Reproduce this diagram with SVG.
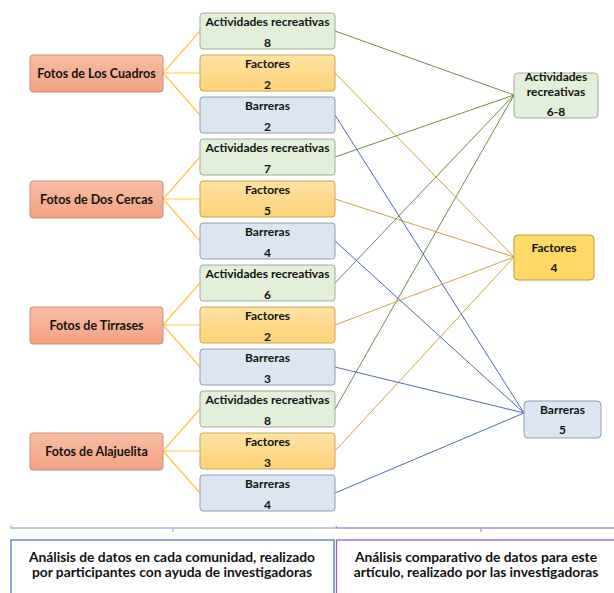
<svg xmlns="http://www.w3.org/2000/svg" width="614" height="593" viewBox="0 0 614 593">
<defs>
<linearGradient id="gSal" x1="0" y1="0" x2="0" y2="1"><stop offset="0" stop-color="#F7BDA5"/><stop offset="1" stop-color="#F4A283"/></linearGradient>
<linearGradient id="gFac" x1="0" y1="0" x2="0" y2="1"><stop offset="0" stop-color="#FFE2A4"/><stop offset="1" stop-color="#FFD275"/></linearGradient>
</defs>
<style>
text{font-family:Lato,"Liberation Sans",sans-serif;font-weight:bold;fill:#111;text-anchor:middle}
.sal{fill:url(#gSal);stroke:#C8917C;stroke-width:1}
.grn{fill:#E2EFD9;stroke:#A3AD9C;stroke-width:1}
.fac{fill:url(#gFac);stroke:#C9A45E;stroke-width:1}
.fac2{fill:#FFD966;stroke:#BF9A3A;stroke-width:1}
.blu{fill:#DCE6F2;stroke:#929DAE;stroke-width:1}
.l{font-size:12.5px}
.m{font-size:12px}
.b{font-size:13.8px;font-weight:bold}
.cy{stroke:#FFC83D;stroke-width:1.2;fill:none}
.cg{stroke:#6F8B4A;stroke-width:1;fill:none}
.cf{stroke:#D0A53C;stroke-width:1;fill:none}
.cb{stroke:#4A6DB0;stroke-width:1;fill:none}
</style>
<rect width="614" height="593" fill="#fff"/>
<g id="connectors">
<path class="cy" d="M163,73 L200,31 M163,73 L200,73 M163,73 L200,115"/>
<path class="cy" d="M163,199 L200,157 M163,199 L200,199 M163,199 L200,241"/>
<path class="cy" d="M163,325 L200,283 M163,325 L200,325 M163,325 L200,367"/>
<path class="cy" d="M163,451 L200,409 M163,451 L200,451 M163,451 L200,493"/>
<path class="cg" d="M335,31 L514,95 M335,157 L514,95 M335,283 L514,95 M335,409 L514,95"/>
<path class="cf" d="M335,73 L514,257 M335,199 L514,257 M335,325 L514,257 M335,451 L514,257"/>
<path class="cb" d="M335,115 L524,413 M335,241 L524,413 M335,367 L524,413 M335,493 L524,413"/>
</g>
<g id="n-cuadros"><rect class="sal" x="30" y="55" width="133" height="37" rx="3"/><text class="l" x="96.5" y="77.5">Fotos de Los Cuadros</text></g>
<g id="n-cercas"><rect class="sal" x="30" y="181" width="133" height="37" rx="3"/><text class="l" x="96.5" y="203.5">Fotos de Dos Cercas</text></g>
<g id="n-tirrases"><rect class="sal" x="30" y="307" width="133" height="37" rx="3"/><text class="l" x="96.5" y="329.5">Fotos de Tirrases</text></g>
<g id="n-alajuelita"><rect class="sal" x="30" y="433" width="133" height="37" rx="3"/><text class="l" x="96.5" y="455.5">Fotos de Alajuelita</text></g>

<g id="m1"><rect class="grn" x="200" y="13" width="135" height="36" rx="3"/><text class="m" x="267.5" y="25.5">Actividades recreativas</text><text class="m" x="267.5" y="46.5">8</text></g>
<g id="m2"><rect class="fac" x="200" y="55" width="135" height="36" rx="3"/><text class="m" x="267.5" y="67.5">Factores</text><text class="m" x="267.5" y="88.5">2</text></g>
<g id="m3"><rect class="blu" x="200" y="97" width="135" height="36" rx="3"/><text class="m" x="267.5" y="109.5">Barreras</text><text class="m" x="267.5" y="130.5">2</text></g>
<g id="m4"><rect class="grn" x="200" y="139" width="135" height="36" rx="3"/><text class="m" x="267.5" y="151.5">Actividades recreativas</text><text class="m" x="267.5" y="172.5">7</text></g>
<g id="m5"><rect class="fac" x="200" y="181" width="135" height="36" rx="3"/><text class="m" x="267.5" y="193.5">Factores</text><text class="m" x="267.5" y="214.5">5</text></g>
<g id="m6"><rect class="blu" x="200" y="223" width="135" height="36" rx="3"/><text class="m" x="267.5" y="235.5">Barreras</text><text class="m" x="267.5" y="256.5">4</text></g>
<g id="m7"><rect class="grn" x="200" y="265" width="135" height="36" rx="3"/><text class="m" x="267.5" y="277.5">Actividades recreativas</text><text class="m" x="267.5" y="298.5">6</text></g>
<g id="m8"><rect class="fac" x="200" y="307" width="135" height="36" rx="3"/><text class="m" x="267.5" y="319.5">Factores</text><text class="m" x="267.5" y="340.5">2</text></g>
<g id="m9"><rect class="blu" x="200" y="349" width="135" height="36" rx="3"/><text class="m" x="267.5" y="361.5">Barreras</text><text class="m" x="267.5" y="382.5">3</text></g>
<g id="m10"><rect class="grn" x="200" y="391" width="135" height="36" rx="3"/><text class="m" x="267.5" y="403.5">Actividades recreativas</text><text class="m" x="267.5" y="424.5">8</text></g>
<g id="m11"><rect class="fac" x="200" y="433" width="135" height="36" rx="3"/><text class="m" x="267.5" y="445.5">Factores</text><text class="m" x="267.5" y="466.5">3</text></g>
<g id="m12"><rect class="blu" x="200" y="475" width="135" height="36" rx="3"/><text class="m" x="267.5" y="487.5">Barreras</text><text class="m" x="267.5" y="508.5">4</text></g>

<g id="r-act"><rect class="grn" x="514" y="73" width="84" height="45" rx="4"/><text class="m" x="556" y="81">Actividades</text><text class="m" x="556" y="96">recreativas</text><text class="m" x="556" y="116">6-8</text></g>
<g id="r-fac"><rect class="fac2" x="514" y="235" width="80" height="45" rx="4"/><text class="m" x="554" y="251.5">Factores</text><text class="m" x="554" y="271.5">4</text></g>
<g id="r-bar"><rect class="blu" x="524" y="401" width="77" height="37" rx="4"/><text class="m" x="562.5" y="413.5">Barreras</text><text class="m" x="562.5" y="433.5">5</text></g>

<g id="bracket-left"><path d="M11,525.5 L11,528 L336,528 M173,528 L173,532" stroke="#A4B8E0" stroke-width="1.3" fill="none"/></g>
<g id="bracket-right"><path d="M336,526 L337,528 L614,528 M481,528 L481,532" stroke="#B58BD2" stroke-width="1.3" fill="none"/></g>
<g id="box-left"><rect x="11" y="540" width="323" height="60" fill="#fff" stroke="#4F7BBF" stroke-width="1.3"/><text class="b" x="172" y="561.5">Análisis de datos en cada comunidad, realizado</text><text class="b" x="172" y="577">por participantes con ayuda de investigadoras</text></g>
<g id="box-right"><rect x="336.5" y="540" width="290" height="60" fill="#fff" stroke="#9A5CC6" stroke-width="1.3"/><text class="b" x="476" y="561.5">Análisis comparativo de datos para este</text><text class="b" x="476" y="577">artículo, realizado por las investigadoras</text></g>
</svg>
